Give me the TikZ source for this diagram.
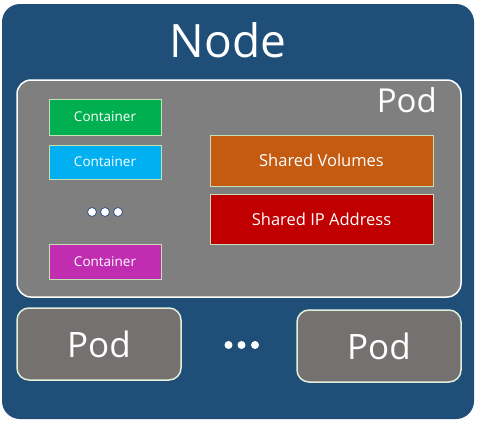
\documentclass[tikz,border=0pt]{standalone}
\usepackage{fontspec}
\setmainfont{Open Sans}
\usepackage{tikz}

\definecolor{nodeblue}{HTML}{1F4E79}
\definecolor{podgrey}{HTML}{7F7F7F}
\definecolor{subpodgrey}{HTML}{767171}
\definecolor{boxedge}{HTML}{C5E0B4}
\definecolor{podedge}{HTML}{E2F0D9}
\definecolor{dotedge}{HTML}{2F528F}
\definecolor{cgreen}{HTML}{00B050}
\definecolor{ccyan}{HTML}{00B0F0}
\definecolor{cmagenta}{HTML}{C02DB0}
\definecolor{sorange}{HTML}{C55A11}
\definecolor{sred}{HTML}{C00000}

\tikzset{
	containerbox/.style={draw=boxedge, line width=1pt, text=white, minimum width=112pt, minimum height=36pt, inner sep=0pt, font=\fontsize{13.5}{13.5}\selectfont},
	sharedbox/.style={draw=boxedge, line width=1pt, text=white, minimum width=223pt, minimum height=50pt, inner sep=0pt, font=\fontsize{16.5}{16.5}\selectfont},
	subpod/.style={draw=podedge, line width=1.5pt, fill=subpodgrey, rounded corners=12pt, text=white, minimum width=164pt, minimum height=72pt, inner sep=0pt, font=\fontsize{35}{35}\selectfont},
	dot/.style={circle, fill=white, inner sep=0pt, minimum size=9pt}
}

\begin{document}
\begin{tikzpicture}[x=1pt, y=-1pt]
		\useasboundingbox (0,0) rectangle (477,424);
		
		% Node
		\fill[nodeblue, rounded corners=18pt] (2,4) rectangle (474,419);
		\node[anchor=base, text=white, font=\fontsize{46}{46}\selectfont] (nodelabel) at (228,57) {Node};
		
		% Pod (groß)
		\draw[white, line width=1.5pt, fill=podgrey, rounded corners=14pt] (17,80) rectangle (461,297);
		\node[anchor=base east, text=white, font=\fontsize{33}{33}\selectfont, inner sep=0pt] (podlabel) at (437,112) {Pod};
		
		% Container
		\node[containerbox, fill=cgreen] (c1) at (105,117) {Container};
		\node[containerbox, fill=ccyan, minimum height=34pt] (c2) at (105,162) {Container};
		\node[containerbox, fill=cmagenta, minimum height=35pt] (c3) at (105,261.5) {Container};
		
		% Punkte
		\foreach \x in {92,105,118}
			\node[dot, draw=dotedge, line width=0.8pt] at (\x,212) {};
		
		% Shared
		\node[sharedbox, fill=sorange, minimum height=51pt] (vol) at (321.5,160.5) {Shared Volumes};
		\node[sharedbox, fill=sred] (ip) at (321.5,219) {Shared IP Address};
		
		% Pods unten
		\node[subpod] (pod1) at (99,344) {Pod};
		\node[subpod] (pod2) at (379,346) {Pod};
		\foreach \x in {228.5,241.5,255}
			\node[dot, minimum size=8pt] at (\x,345) {};
		
	\end{tikzpicture}
\end{document}
